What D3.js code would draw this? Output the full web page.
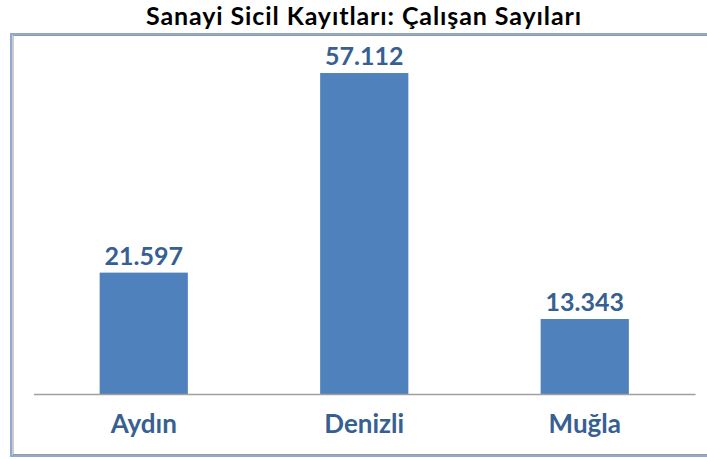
<!DOCTYPE html>
<html>
<head>
<meta charset="utf-8">
<script src="https://cdn.jsdelivr.net/npm/d3@7"></script>
<style>
  html, body { margin: 0; padding: 0; background: #fff; }
  svg { display: block; font-family: Lato, "Open Sans", sans-serif; }
</style>
</head>
<body>
<svg id="chart" width="707" height="459"></svg>
<script>
// Employee counts from the industry registry, per province
const provinces = ["Aydın", "Denizli", "Muğla"];
const employees = [21597, 57112, 13343];
const valueLabels = ["21.597", "57.112", "13.343"];
const chartTitle = "Sanayi Sicil Kayıtları: Çalışan Sayıları";

const svg = d3.select("#chart");
const barColor = "#4F81BD";
const labelColor = "#376092";

// Outer frame with a soft double edge
svg.append("rect")
  .attr("x", 11).attr("y", 34).attr("width", 720).attr("height", 422)
  .attr("fill", "none").attr("stroke", "#8FAAD0").attr("stroke-width", 2);
svg.append("rect")
  .attr("x", 13).attr("y", 35.5).attr("width", 720).attr("height", 419)
  .attr("fill", "none").attr("stroke", "#9A9A9A").attr("stroke-width", 1);

// Title
svg.append("text")
  .attr("x", 364).attr("y", 25)
  .attr("text-anchor", "middle")
  .attr("font-weight", "bold")
  .attr("font-size", 25)
  .attr("letter-spacing", 0.9)
  .attr("fill", "#000")
  .text(chartTitle);

const baseY = 394;
const x = d3.scaleBand()
  .domain(provinces)
  .range([33.5, 695])
  .paddingInner(0.6)
  .paddingOuter(0.3);

const y = d3.scaleLinear()
  .domain([0, 60000])
  .range([baseY, baseY - 337.2]);

const data = provinces.map((p, i) => ({ p, v: employees[i], label: valueLabels[i] }));

// Bars
svg.append("g").selectAll("rect")
  .data(data)
  .join("rect")
  .attr("x", d => x(d.p))
  .attr("y", d => y(d.v))
  .attr("width", x.bandwidth())
  .attr("height", d => y(0) - y(d.v))
  .attr("fill", barColor);

// Category axis: baseline line and labels
const axis = d3.axisBottom(x).tickSize(0).tickPadding(0);
const gx = svg.append("g").attr("transform", `translate(0,${baseY})`).call(axis);
gx.select(".domain").attr("stroke", "#A0A0A0").attr("stroke-width", 1.5);
gx.selectAll(".tick text")
  .attr("dy", null)
  .attr("y", 39)
  .attr("font-family", "Lato, 'Open Sans', sans-serif")
  .attr("font-size", 26)
  .attr("font-weight", "bold")
  .attr("fill", labelColor);

// Value labels above bars
svg.append("g").selectAll("text")
  .data(data)
  .join("text")
  .attr("x", d => x(d.p) + x.bandwidth() / 2)
  .attr("y", d => y(d.v) - 8)
  .attr("text-anchor", "middle")
  .attr("font-size", 25)
  .attr("font-weight", "bold")
  .attr("fill", labelColor)
  .text(d => d.label);
</script>
</body>
</html>
